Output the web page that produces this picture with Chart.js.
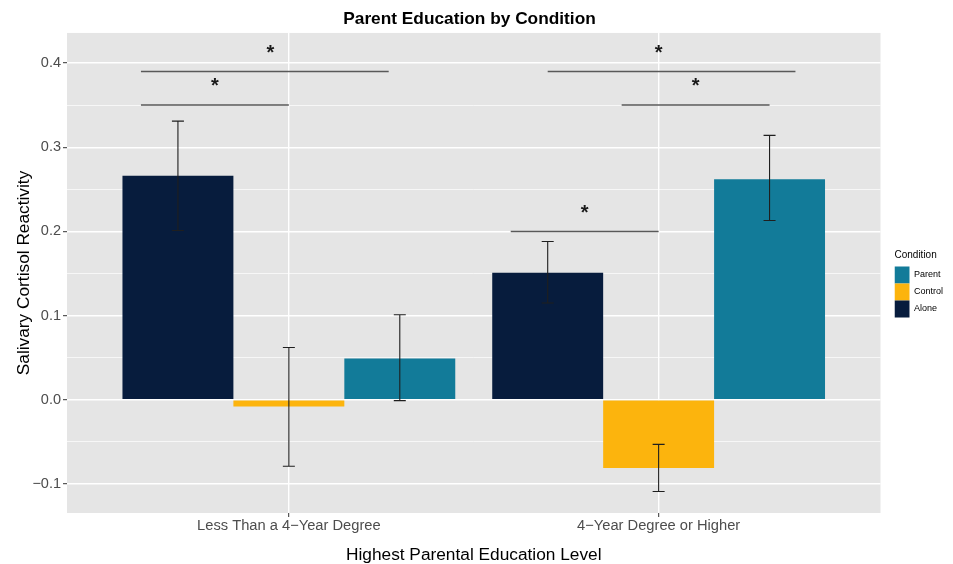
<!DOCTYPE html>
<html>
<head>
<meta charset="utf-8">
<script src="https://cdn.jsdelivr.net/npm/chart.js@4.4.1/dist/chart.umd.min.js"></script>
<style>
  body { margin: 0; background: #fff; }
  #wrap { width: 953px; height: 564px; }
</style>
</head>
<body>
<div id="wrap"><canvas id="eduChart"></canvas></div>
<script>
// categories and groups
const categories = ["Less Than a 4\u2212Year Degree", "4\u2212Year Degree or Higher"];
const categoryPos = [1, 2];

// bar means per condition
const aloneMeans = [0.266, 0.151];
const controlMeans = [-0.008, -0.081];
const parentMeans = [0.049, 0.262];

// error bar ends
const aloneLow = [0.201, 0.115];
const aloneHigh = [0.331, 0.188];
const controlLow = [-0.079, -0.109];
const controlHigh = [0.062, -0.053];
const parentLow = [-0.001, 0.213];
const parentHigh = [0.101, 0.314];

// tick values
const yMajor = [-0.1, 0, 0.1, 0.2, 0.3, 0.4];
const yMinor = [-0.05, 0.05, 0.15, 0.25, 0.35];

// significance brackets (data coordinates)
const bracketFrom = [0.6, 0.6, 1.7, 1.9, 1.6];
const bracketTo = [1.27, 1.0, 2.37, 2.3, 2.0];
const bracketY = [0.39, 0.35, 0.39, 0.35, 0.2];
const starX = [0.95, 0.8, 2.0, 2.1, 1.8];
const starY = [0.417, 0.377, 0.417, 0.377, 0.227];

const FONT = "'Liberation Sans', Arial, Helvetica, sans-serif";

function toPoints(vals) {
  return vals.map((v, i) => ({ x: categoryPos[i], y: v }));
}

const errLow = [aloneLow, controlLow, parentLow];
const errHigh = [aloneHigh, controlHigh, parentHigh];

// grey ggplot panel
const panelBg = {
  id: "panelBg",
  beforeDraw(chart) {
    const a = chart.chartArea;
    const ctx = chart.ctx;
    ctx.save();
    ctx.fillStyle = "#e5e5e5";
    ctx.fillRect(a.left, a.top, a.right - a.left, a.bottom - a.top);
    ctx.restore();
    // nudge legend away from the panel
    if (chart.legend) {
      const w = chart.legend.width;
      chart.legend.left = a.right + 14;
      chart.legend.right = chart.legend.left + w;
    }
  }
};

// error bars + significance brackets
const extras = {
  id: "extras",
  afterDatasetsDraw(chart) {
    const ctx = chart.ctx;
    const xs = chart.scales.x;
    const ys = chart.scales.y;
    ctx.save();
    ctx.strokeStyle = "#1f1f1f";
    ctx.lineWidth = 1.1;
    chart.data.datasets.forEach((ds, i) => {
      const meta = chart.getDatasetMeta(i);
      meta.data.forEach((bar, j) => {
        const x = bar.x;
        const y1 = ys.getPixelForValue(errLow[i][j]);
        const y2 = ys.getPixelForValue(errHigh[i][j]);
        ctx.beginPath();
        ctx.moveTo(x, y1); ctx.lineTo(x, y2);
        ctx.moveTo(x - 6, y1); ctx.lineTo(x + 6, y1);
        ctx.moveTo(x - 6, y2); ctx.lineTo(x + 6, y2);
        ctx.stroke();
      });
    });

    ctx.strokeStyle = "#595959";
    ctx.lineWidth = 1.5;
    bracketY.forEach((v, k) => {
      const y = ys.getPixelForValue(v);
      ctx.beginPath();
      ctx.moveTo(xs.getPixelForValue(bracketFrom[k]), y);
      ctx.lineTo(xs.getPixelForValue(bracketTo[k]), y);
      ctx.stroke();
    });

    ctx.fillStyle = "#1a1a1a";
    ctx.font = "bold 20px " + FONT;
    ctx.textAlign = "center";
    ctx.textBaseline = "alphabetic";
    const m = ctx.measureText("*");
    const shift = (m.actualBoundingBoxAscent - m.actualBoundingBoxDescent) / 2;
    starX.forEach((v, k) => {
      ctx.fillText("*", xs.getPixelForValue(v), ys.getPixelForValue(starY[k]) + shift);
    });
    ctx.restore();
  }
};

const eduData = {
  datasets: [
    { label: "Alone", data: toPoints(aloneMeans), backgroundColor: "#071c3d", borderWidth: 0 },
    { label: "Control", data: toPoints(controlMeans), backgroundColor: "#fcb40d", borderWidth: 0 },
    { label: "Parent", data: toPoints(parentMeans), backgroundColor: "#127b99", borderWidth: 0 }
  ]
};

const eduConfig = {
  type: "bar",
  data: eduData,
  options: {
    responsive: true,
    maintainAspectRatio: false,
    animation: false,
    categoryPercentage: 0.9,
    barPercentage: 1,
    layout: { padding: { left: 0, right: 14, top: 0, bottom: 0 } },
    plugins: {
      tooltip: { enabled: false },
      title: {
        display: true,
        text: "Parent Education by Condition",
        color: "#000",
        font: { family: FONT, size: 17.3, weight: "bold", lineHeight: 1.2 },
        padding: { top: 9, bottom: 3.2 }
      },
      legend: {
        position: "right",
        align: "center",
        reverse: true,
        title: {
          display: true,
          text: "Condition",
          position: "start",
          color: "#000",
          font: { family: FONT, size: 10 },
          padding: 4
        },
        labels: {
          boxWidth: 15,
          boxHeight: 17,
          padding: 0,
          color: "#000",
          font: { family: FONT, size: 9 }
        }
      }
    },
    scales: {
      x: {
        type: "linear",
        min: 0.4,
        max: 2.6,
        offset: false,
        afterBuildTicks(scale) {
          scale.ticks = categoryPos.map(v => ({ value: v }));
        },
        afterFit(scale) { scale.height = 51; },
        ticks: {
          padding: 0,
          color: "#4d4d4d",
          font: { family: FONT, size: 14.7 },
          maxRotation: 0,
          callback: (v) => categories[categoryPos.indexOf(v)] || ""
        },
        grid: {
          offset: false,
          color: "#ffffff",
          lineWidth: 1.4,
          tickColor: "#333333",
          tickWidth: 1,
          tickLength: 4
        },
        border: { display: false },
        title: {
          display: true,
          text: "Highest Parental Education Level",
          color: "#000",
          font: { family: FONT, size: 17.3, lineHeight: 1.0 },
          padding: { top: 0, bottom: 0 }
        }
      },
      y: {
        min: -0.1345,
        max: 0.4357,
        afterBuildTicks(scale) {
          const t = yMajor.map(v => ({ value: v, minor: false }))
            .concat(yMinor.map(v => ({ value: v, minor: true })));
          t.sort((a, b) => a.value - b.value);
          scale.ticks = t;
        },
        afterFit(scale) { scale.width = 67; },
        ticks: {
          padding: 2,
          color: "#4d4d4d",
          font: { family: FONT, size: 14.5 },
          callback: function (v) {
            if (yMinor.indexOf(v) >= 0) return "";
            return v.toFixed(1).replace("-", "\u2212");
          }
        },
        grid: {
          color: "#ffffff",
          lineWidth: (c) => (c.tick && c.tick.minor ? 0.7 : 1.4),
          tickColor: (c) => (c.tick && c.tick.minor ? "rgba(0,0,0,0)" : "#333333"),
          tickWidth: 1,
          tickLength: 4
        },
        border: { display: false },
        title: {
          display: true,
          text: "Salivary Cortisol Reactivity",
          color: "#000",
          font: { family: FONT, size: 17.3, lineHeight: 1.2 },
          padding: { top: 14, bottom: 0 }
        }
      }
    }
  },
  plugins: [panelBg, extras]
};

const eduChart = new Chart(document.getElementById("eduChart"), eduConfig);
</script>
</body>
</html>
